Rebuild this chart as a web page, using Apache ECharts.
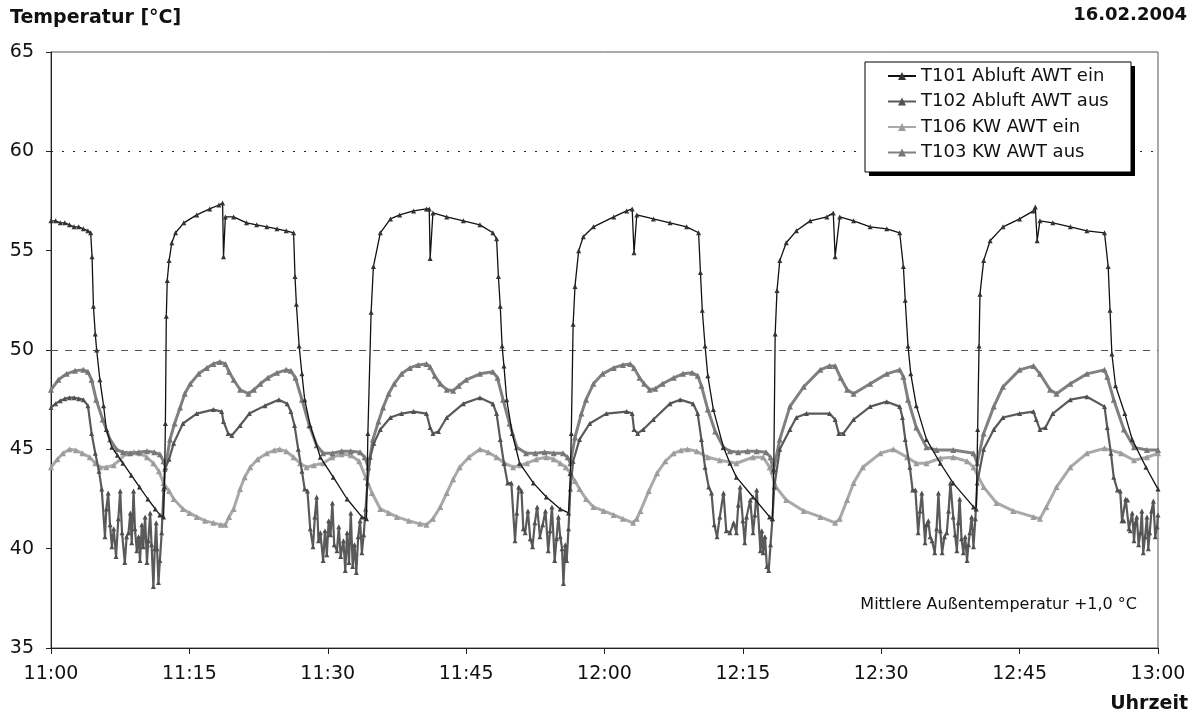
<!DOCTYPE html>
<html>
<head>
<meta charset="utf-8">
<script src="https://cdn.jsdelivr.net/npm/echarts@6/dist/echarts.min.js"></script>
<style>
html,body{margin:0;padding:0;background:#fff;}
#chart{width:1197px;height:719px;}
</style>
</head>
<body>
<div id="chart"></div>
<script>
// minutes after 11:00 -> temperature in °C
const xTicks = ['11:00','11:15','11:30','11:45','12:00','12:15','12:30','12:45','13:00'];
const seriesNames = ['T101 Abluft AWT ein','T102 Abluft AWT aus','T106 KW AWT ein','T103 KW AWT aus'];

const T101 = [
[0,56.5],[0.5,56.5],[1,56.4],[1.5,56.4],[2,56.3],[2.5,56.2],[3,56.2],[3.5,56.1],[4,56.0],[4.3,55.9],
[4.45,54.7],[4.6,52.2],[4.8,50.8],[4.95,50.0],[5.3,48.5],[5.7,47.2],[6.0,46.0],[6.6,45.1],[7.2,44.7],[7.8,44.3],[8.7,43.7],[9.6,43.1],[10.5,42.5],[11.3,42.0],[11.8,41.7],[12.2,41.6],
[12.3,43.1],[12.4,46.3],[12.5,51.7],[12.6,53.5],[12.8,54.5],[13.1,55.4],[13.5,55.9],[14.4,56.4],[15.8,56.8],[17.2,57.1],[18.2,57.3],[18.6,57.4],[18.7,54.7],[18.9,56.7],[19.8,56.7],[21.2,56.4],[22.3,56.3],[23.4,56.2],[24.5,56.1],[25.5,56.0],[26.3,55.9],
[26.45,53.7],[26.6,52.3],[26.9,50.2],[27.2,48.8],[27.5,47.5],[28.1,46.2],[29.2,44.6],[30.6,43.6],[32.1,42.5],[33.7,41.6],[34.2,41.5],
[34.35,45.8],[34.7,51.9],[34.95,54.2],[35.7,55.9],[36.8,56.6],[37.8,56.8],[39.3,57.0],[40.7,57.1],[41.0,57.1],[41.1,54.6],[41.4,56.9],[42.9,56.7],[44.7,56.5],[46.5,56.3],[47.9,55.9],[48.3,55.6],
[48.5,53.7],[48.7,52.2],[48.9,50.2],[49.1,49.2],[49.4,47.5],[50.0,45.8],[50.8,44.3],[52.3,43.3],[53.7,42.6],[55.2,42.0],[56.1,41.8],
[56.3,43.8],[56.4,45.8],[56.6,51.3],[56.8,53.2],[57.2,55.0],[57.7,55.7],[58.8,56.2],[61.0,56.7],[62.4,57.0],[63.0,57.1],[63.2,54.9],[63.5,56.8],[65.3,56.6],[67.1,56.4],[68.9,56.2],[70.2,55.9],
[70.4,53.9],[70.6,52.0],[70.9,50.2],[71.2,48.7],[71.8,47.0],[72.9,45.1],[73.6,44.3],[74.3,43.6],[76.1,42.6],[77.9,41.6],[78.2,41.5],
[78.35,44.0],[78.5,50.8],[78.7,53.0],[79.0,54.5],[79.7,55.4],[80.8,56.0],[82.3,56.5],[84.1,56.7],[84.8,56.9],[85.0,54.7],[85.5,56.7],[87.0,56.5],[88.8,56.2],[90.6,56.1],[92.0,55.9],
[92.4,54.2],[92.6,52.5],[92.9,50.2],[93.2,48.8],[93.8,47.2],[94.9,45.5],[96.4,44.3],[97.8,43.3],[100.0,42.1],[100.3,42.0],
[100.45,46.0],[100.6,50.2],[100.7,52.8],[101.1,54.5],[101.8,55.5],[103.2,56.2],[105.0,56.6],[106.5,57.0],[106.7,57.2],[106.9,55.5],[107.2,56.5],[108.6,56.4],[110.5,56.2],[112.3,56.0],[114.2,55.9],
[114.6,54.2],[114.8,52.0],[115.0,49.8],[115.4,48.2],[116.4,46.8],[117.2,45.5],[118.7,44.1],[120,43.0]
];

const T102 = [
[0,47.1],[0.5,47.3],[1,47.45],[1.5,47.55],[2,47.6],[2.5,47.6],[3,47.55],[3.5,47.5],[4.0,47.2],[4.4,45.8],[4.8,44.8],[5.2,43.9],
[5.5,43.0],[5.85,40.6],[6.0,42.0],[6.2,42.8],[6.4,41.2],[6.6,40.1],[6.8,41.0],[7.05,39.6],[7.3,41.5],[7.5,42.9],[7.7,40.8],[8.0,39.3],[8.2,40.6],[8.4,40.8],[8.6,41.8],[8.75,40.3],[8.95,42.9],[9.1,41.0],[9.3,39.9],[9.5,40.6],[9.65,39.4],[9.85,41.2],[10.0,40.1],[10.2,41.6],[10.4,39.3],[10.55,40.4],[10.75,41.8],[10.9,40.2],[11.1,38.1],[11.25,40.0],[11.4,41.3],[11.5,40.0],[11.65,38.3],[11.8,39.4],[12.0,40.8],[12.2,43.0],
[12.35,44.0],[12.8,44.5],[13.3,45.3],[14.3,46.3],[15.8,46.8],[17.6,47.0],[18.5,46.9],[18.7,46.4],[19.2,45.8],[19.6,45.7],[20.5,46.2],[21.5,46.8],[23.2,47.2],[24.7,47.5],[25.6,47.3],[26.0,46.9],
[26.4,46.2],[26.8,45.0],[27.2,43.9],[27.5,43.0],
[27.8,42.9],[28.1,41.0],[28.4,40.1],[28.6,41.6],[28.8,42.6],[29.0,40.4],[29.2,40.8],[29.5,39.4],[29.7,40.9],[29.9,39.7],[30.1,41.4],[30.3,40.7],[30.5,42.3],[30.7,40.2],[31.0,39.9],[31.2,41.1],[31.4,39.6],[31.7,40.4],[31.9,38.9],[32.1,40.8],[32.3,39.3],[32.5,41.8],[32.7,39.1],[32.9,40.2],[33.1,38.8],[33.3,40.6],[33.5,41.4],[33.7,39.8],[33.9,40.7],[34.1,42.0],[34.3,43.3],
[34.6,44.6],[35.0,45.3],[35.7,46.0],[36.8,46.6],[38.0,46.8],[39.3,46.9],[40.7,46.8],[41.1,46.1],[41.4,45.8],[42.0,45.9],[42.9,46.6],[44.7,47.3],[46.5,47.6],[47.9,47.3],[48.3,46.8],
[48.7,45.5],[49.1,44.3],[49.5,43.3],
[49.9,43.3],[50.3,40.4],[50.5,41.8],[50.7,43.1],[51.0,42.9],[51.2,41.0],[51.4,40.8],[51.7,41.9],[51.95,40.5],[52.2,40.1],[52.45,41.3],[52.7,42.1],[53.0,40.6],[53.3,41.2],[53.6,41.9],[53.9,39.9],[54.1,40.9],[54.3,42.1],[54.6,39.4],[54.8,40.5],[55.0,41.6],[55.2,40.6],[55.4,40.0],[55.55,38.25],[55.75,40.2],[55.9,39.4],[56.1,41.0],[56.3,43.0],
[56.6,44.4],[57.3,45.5],[58.4,46.3],[60.2,46.8],[62.4,46.9],[63.0,46.8],[63.2,46.0],[63.6,45.8],[64.2,46.0],[65.3,46.5],[67.1,47.3],[68.2,47.5],[69.6,47.3],[70.1,46.8],
[70.5,45.5],[70.9,44.1],[71.3,43.1],
[71.6,42.8],[71.9,41.2],[72.2,40.6],[72.5,41.6],[72.9,42.8],[73.2,40.9],[73.6,40.8],[74.0,41.3],[74.3,40.8],[74.5,42.2],[74.7,43.1],[75.0,41.4],[75.2,40.3],[75.4,41.6],[75.8,42.45],[76.1,40.8],[76.3,41.7],[76.5,42.95],[76.9,39.9],[77.05,40.9],[77.2,39.8],[77.4,40.6],[77.6,39.1],[77.8,38.9],[78.0,40.2],[78.2,41.5],[78.4,43.1],
[79.0,45.0],[80.1,46.0],[80.8,46.6],[81.9,46.8],[84.4,46.8],[85.0,46.5],[85.4,45.8],[85.9,45.8],[87.0,46.5],[88.8,47.15],[90.6,47.4],[92.0,47.15],[92.3,46.6],
[92.6,45.5],[93.1,44.1],[93.4,42.95],
[93.7,42.95],[94.0,40.8],[94.2,41.9],[94.4,42.8],[94.75,40.3],[94.9,41.2],[95.1,41.4],[95.3,40.6],[95.5,40.4],[95.8,39.8],[96.0,41.0],[96.2,42.8],[96.4,40.9],[96.6,39.8],[96.85,40.6],[97.1,40.8],[97.3,41.9],[97.5,43.3],[97.8,41.6],[98.0,40.7],[98.2,39.9],[98.35,41.3],[98.5,42.5],[98.7,40.5],[98.9,39.8],[99.1,40.6],[99.3,39.4],[99.45,40.2],[99.6,40.8],[99.8,41.6],[100.0,40.1],[100.2,41.5],[100.4,43.3],
[101.1,45.0],[102.2,46.0],[103.2,46.6],[105.0,46.8],[106.5,46.9],[106.8,46.5],[107.2,46.0],[107.8,46.1],[108.6,46.8],[110.5,47.5],[112.3,47.65],[114.2,47.15],[114.5,46.1],
[114.9,44.8],[115.2,43.6],[115.6,42.95],
[115.9,42.9],[116.1,41.4],[116.3,41.4],[116.5,42.5],[116.7,42.45],[116.85,41.0],[117.0,40.9],[117.2,41.8],[117.4,40.4],[117.55,41.3],[117.7,41.6],[117.9,40.2],[118.1,40.8],[118.25,41.9],[118.4,39.8],[118.6,40.6],[118.8,41.6],[118.95,40.0],[119.1,40.8],[119.3,41.9],[119.5,42.4],[119.7,40.6],[119.9,41.1],[120,41.7]
];

const T103 = [
[0,48.0],[0.8,48.5],[1.7,48.8],[2.6,48.95],[3.5,49.0],[4.0,48.9],[4.4,48.5],[4.9,47.5],[5.6,46.5],[6.4,45.5],[7.1,45.0],[7.8,44.85],[8.6,44.8],[9.5,44.85],[10.4,44.9],[11.2,44.85],[11.8,44.75],[12.2,44.4],[12.4,44.1],
[12.9,45.5],[13.4,46.3],[14.0,47.1],[14.5,47.8],[15.1,48.3],[16.0,48.8],[16.9,49.1],[17.6,49.3],[18.3,49.4],[18.9,49.3],[19.3,48.9],[19.8,48.5],[20.5,48.0],[21.4,47.8],[22.0,48.0],[22.7,48.3],[23.5,48.6],[24.5,48.85],[25.5,49.0],[26.0,48.95],[26.5,48.6],
[27.2,47.5],[28.0,46.2],[28.8,45.2],[29.5,44.8],[30.5,44.8],[31.5,44.9],[32.5,44.9],[33.5,44.85],[34.0,44.6],[34.4,44.1],
[34.9,45.5],[35.5,46.4],[36.0,47.1],[36.6,47.8],[37.2,48.3],[38.0,48.8],[38.9,49.1],[39.8,49.25],[40.7,49.3],[41.1,49.15],[41.6,48.7],[42.2,48.3],[42.9,48.0],[43.6,47.95],[44.2,48.2],[45.0,48.5],[46.5,48.8],[47.9,48.9],[48.4,48.6],
[49.0,47.5],[49.7,46.3],[50.5,45.1],[51.5,44.8],[52.5,44.8],[53.5,44.85],[54.5,44.8],[55.5,44.8],[56.0,44.6],[56.3,44.3],
[56.8,45.6],[57.5,46.8],[58.0,47.5],[58.8,48.3],[59.8,48.8],[61.0,49.1],[62.0,49.25],[62.8,49.3],[63.2,49.1],[63.8,48.6],[64.3,48.3],[64.9,48.0],[65.5,48.05],[66.3,48.3],[67.5,48.6],[68.5,48.8],[69.5,48.85],[70.1,48.7],[70.5,48.2],
[71.2,47.0],[72.0,45.9],[72.9,45.1],[73.6,44.9],[74.5,44.85],[75.5,44.9],[76.5,44.9],[77.5,44.85],[78.0,44.6],[78.3,43.9],
[79.0,45.5],[80.1,47.15],[81.6,48.15],[83.4,49.0],[84.4,49.2],[85.0,49.2],[85.6,48.6],[86.3,48.0],[87.0,47.8],[88.8,48.3],[90.6,48.8],[92.0,49.0],[92.4,48.65],
[92.9,47.5],[93.8,46.1],[94.9,45.1],[96.0,44.97],[97.8,44.97],[100.0,44.8],[100.4,44.3],
[101.1,45.8],[102.2,47.15],[103.2,48.15],[105.0,49.0],[106.5,49.2],[107.2,48.8],[108.3,48.0],[109.0,47.8],[110.5,48.3],[112.3,48.8],[114.2,49.0],[114.5,48.65],
[115.2,47.5],[116.3,46.0],[117.4,45.1],[118.8,44.97],[120,44.97]
];

const T106 = [
[0,44.1],[0.7,44.5],[1.3,44.8],[2.0,45.0],[2.7,44.95],[3.4,44.8],[4.2,44.6],[4.8,44.3],[5.3,44.1],[6.0,44.1],[6.8,44.2],[7.5,44.5],[8.2,44.8],[9.0,44.85],[9.65,44.8],[10.4,44.6],[11.1,44.3],[11.7,43.9],
[12.2,43.3],[12.8,42.9],[13.3,42.5],[14.3,42.0],[15.0,41.8],[15.8,41.6],[16.7,41.4],[17.6,41.3],[18.4,41.2],[18.9,41.2],[19.3,41.6],[19.8,42.0],[20.5,43.0],[21.0,43.6],[21.6,44.1],[22.4,44.5],[23.4,44.8],[24.2,44.95],[24.8,45.0],[25.5,44.9],[26.3,44.6],[27.0,44.3],[27.7,44.1],[28.5,44.2],[29.5,44.3],[30.5,44.6],[31.5,44.75],[32.5,44.7],[33.4,44.4],
[34.1,43.6],[34.8,42.8],[35.7,42.0],[36.6,41.8],[37.5,41.6],[38.8,41.4],[40.0,41.25],[40.7,41.2],[41.4,41.5],[42.2,42.1],[42.9,42.8],[43.6,43.5],[44.3,44.1],[45.3,44.6],[46.5,45.0],[47.4,44.85],[48.3,44.6],[49.2,44.3],[50.1,44.1],[50.9,44.2],[51.6,44.3],[52.6,44.5],[53.7,44.6],[54.5,44.5],[55.2,44.3],[55.8,44.1],
[56.3,43.8],[56.8,43.4],[57.3,43.0],[58.0,42.5],[58.8,42.1],[59.9,41.9],[61.0,41.7],[62.0,41.5],[63.1,41.3],[63.5,41.5],[63.9,41.9],[64.8,42.9],[65.7,43.8],[66.6,44.4],[67.5,44.8],[68.3,44.95],[69.0,45.0],[70.0,44.9],[71.2,44.6],[72.5,44.45],[74.3,44.3],[76.1,44.6],[77.2,44.6],[77.9,44.1],
[78.6,43.1],[79.7,42.45],[81.6,41.9],[83.4,41.6],[85.0,41.3],[85.5,41.5],[86.3,42.45],[87.0,43.3],[88.0,44.1],[89.9,44.8],[91.3,45.0],[92.8,44.6],[93.8,44.3],[94.9,44.3],[96.4,44.55],[97.8,44.6],[99.3,44.4],[100.0,44.1],
[101.1,43.1],[102.5,42.3],[104.3,41.9],[106.5,41.6],[107.2,41.5],[107.9,42.1],[109.0,43.1],[110.5,44.1],[112.3,44.8],[114.2,45.05],[116.0,44.8],[117.4,44.45],[118.8,44.6],[120,44.8]
];

const chart = echarts.init(document.getElementById('chart'), null, {renderer:'canvas'});
const FONT = 'DejaVu Sans';

function mkSeries(name, data, lineColor, symColor, width, symSize, z){
  return {
    name: name, type: 'line', data: data, z: z,
    showAllSymbol: true, symbol: 'triangle', symbolSize: symSize,
    itemStyle: {color: symColor},
    lineStyle: {color: lineColor, width: width},
    emphasis: {disabled: true}
  };
}

const sT106 = mkSeries(seriesNames[2], T106, '#a9a9a9', '#9c9c9c', 3, 6, 2);
sT106.markLine = {
  silent: true, symbol: 'none', label: {show: false},
  data: [
    {yAxis: 60, lineStyle: {color: '#222', type: [2, 9], width: 1.2}},
    {yAxis: 50, lineStyle: {color: '#555', type: [7, 7], width: 1}}
  ]
};

const option = {
  animation: false,
  backgroundColor: '#fff',
  grid: {left: 51, right: 39, top: 52, bottom: 71, show: true, borderColor: '#555', borderWidth: 1, backgroundColor: '#fff'},
  xAxis: {
    type: 'value', min: 0, max: 120, interval: 15,
    axisLine: {show: true, lineStyle: {color: '#222', width: 1}},
    axisTick: {show: true, length: 6, lineStyle: {color: '#222'}},
    splitLine: {show: false},
    axisLabel: {margin: 17, fontFamily: FONT, fontSize: 19, color: '#111',
      formatter: function(v){ return xTicks[Math.round(v/15)]; }}
  },
  yAxis: {
    type: 'value', min: 35, max: 65, interval: 5,
    axisLine: {show: true, lineStyle: {color: '#222', width: 1}},
    axisTick: {show: true, length: 5, lineStyle: {color: '#222'}},
    splitLine: {show: false},
    axisLabel: {margin: 17, fontFamily: FONT, fontSize: 19, color: '#111'}
  },
  legend: {
    z: 30,
    data: [seriesNames[0], seriesNames[1], seriesNames[2], seriesNames[3]],
    orient: 'vertical', left: 865, top: 62,
    itemWidth: 28, itemHeight: 10, itemGap: 7.5,
    padding: [5, 22, 10, 22],
    textStyle: {fontFamily: FONT, fontSize: 18, color: '#111', lineHeight: 18},
    selectedMode: false
  },
  graphic: [
    {type: 'rect', z: 20, shape: {x: 869, y: 66, width: 266, height: 110}, style: {fill: '#000'}},
    {type: 'rect', z: 21, shape: {x: 865, y: 62, width: 266, height: 110}, style: {fill: '#fff', stroke: '#000', lineWidth: 1}},
    {type: 'text', left: 10, top: 9, style: {text: 'Temperatur [°C]', font: 'bold 19px "DejaVu Sans"', fill: '#111'}},
    {type: 'text', right: 10, top: 6, style: {text: '16.02.2004', font: 'bold 18px "DejaVu Sans"', fill: '#111'}},
    {type: 'text', right: 9, top: 695, style: {text: 'Uhrzeit', font: 'bold 19px "DejaVu Sans"', fill: '#111'}},
    {type: 'text', right: 60, top: 597, style: {text: 'Mittlere Außentemperatur +1,0 °C', font: '16px "DejaVu Sans"', fill: '#111'}}
  ],
  series: [
    sT106,
    mkSeries(seriesNames[3], T103, '#808080', '#777777', 3, 6, 3),
    mkSeries(seriesNames[1], T102, '#5a5a5a', '#505050', 2.2, 5, 4),
    mkSeries(seriesNames[0], T101, '#111111', '#333333', 1.3, 5, 5)
  ]
};
chart.setOption(option);
</script>
</body>
</html>
